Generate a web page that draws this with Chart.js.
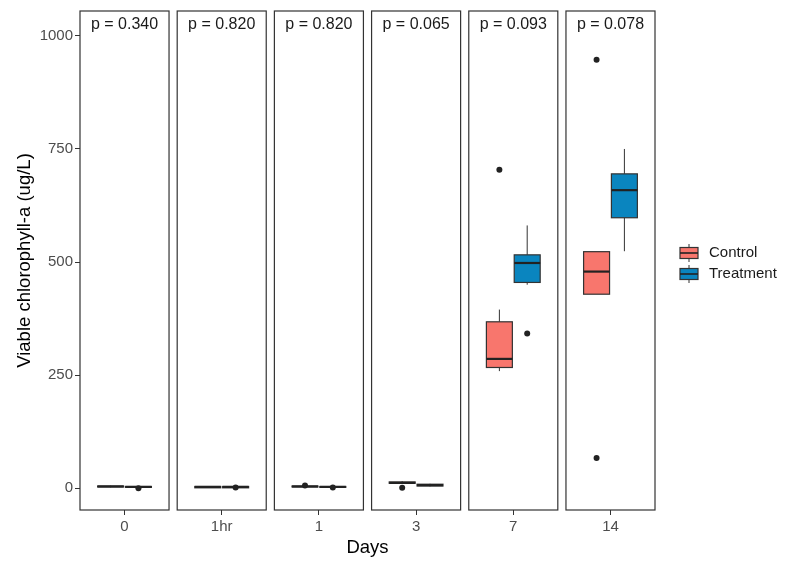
<!DOCTYPE html>
<html>
<head>
<meta charset="utf-8">
<script src="https://cdn.jsdelivr.net/npm/chart.js@4"></script>
<style>
  html, body { margin: 0; padding: 0; background: #fff; }
</style>
</head>
<body>
<canvas id="grafico" width="787" height="563"></canvas>
<script>
// Dados
const dias = ['0', '1hr', '1', '3', '7', '14'];
const pValores = ['p = 0.340', 'p = 0.820', 'p = 0.820', 'p = 0.065', 'p = 0.093', 'p = 0.078'];
const grupos = ['Control', 'Treatment'];

// [bigode inferior, q1, mediana, q3, bigode superior]
const controle = [
    [2, 3, 4, 5, 6],
    [1, 1, 3, 4, 5],
    [2, 3, 4, 5, 6],
    [10, 11, 12, 14, 16],
    [259, 267, 286, 368, 395],
    [429, 429, 479, 523, 523]
];
const tratamento = [
    [1, 2, 3, 4, 5],
    [1, 1, 3, 4, 5],
    [1, 2, 3, 4, 5],
    [4, 5, 7, 9, 10],
    [450, 455, 498, 516, 581],
    [524, 598, 659, 695, 750]
];
const outliersControle = [[], [], [6], [1], [704], [947, 67]];
const outliersTratamento = [[0], [2], [2], [], [342], []];

const yTicks = [0, 250, 500, 750, 1000];
const cores = ['#F8766D', '#0A85BF'];

// geometria dos painéis (unidades do eixo x)
const LARG = 1.2, PASSO = 1.31, DESLOC = 0.1875, MEIA = 0.175;
const centros = dias.map((d, i) => i * PASSO + LARG / 2);

function pontosOutliers(lista, sinal) {
    const pts = [];
    lista.forEach((vals, i) => {
        vals.forEach(v => pts.push({ x: centros[i] + sinal * DESLOC, y: v }));
    });
    return pts;
}

const FONTE = "'Liberation Sans', Arial, sans-serif";

const pluginCaixas = {
    id: 'caixas',
    beforeDatasetsDraw(chart) {
        const { ctx, scales: { x, y } } = chart;
        ctx.save();
        [controle, tratamento].forEach((serie, g) => {
            const sinal = g === 0 ? -1 : 1;
            serie.forEach((s, i) => {
                const cx = centros[i] + sinal * DESLOC;
                const x0 = x.getPixelForValue(cx - MEIA);
                const x1 = x.getPixelForValue(cx + MEIA);
                const xm = x.getPixelForValue(cx);
                const [lo, q1, med, q3, hi] = s.map(v => y.getPixelForValue(v));
                // bigodes
                ctx.strokeStyle = '#333';
                ctx.lineWidth = 1;
                ctx.beginPath();
                ctx.moveTo(xm, q3); ctx.lineTo(xm, hi);
                ctx.moveTo(xm, q1); ctx.lineTo(xm, lo);
                ctx.stroke();
                // caixa
                ctx.fillStyle = cores[g];
                ctx.fillRect(x0, q3, x1 - x0, q1 - q3);
                ctx.lineWidth = 1.2;
                ctx.strokeRect(x0, q3, x1 - x0, q1 - q3);
                // mediana
                ctx.lineWidth = 2.2;
                ctx.strokeStyle = '#222';
                ctx.beginPath();
                ctx.moveTo(x0, med); ctx.lineTo(x1, med);
                ctx.stroke();
            });
        });
        ctx.restore();
    },
    afterDraw(chart) {
        const { ctx, chartArea, scales: { x, y } } = chart;
        ctx.save();
        // bordas dos painéis e p-valores
        dias.forEach((d, i) => {
            const xa = x.getPixelForValue(i * PASSO);
            const xb = x.getPixelForValue(i * PASSO + LARG);
            ctx.strokeStyle = '#333';
            ctx.lineWidth = 1.2;
            ctx.strokeRect(xa, chartArea.top, xb - xa, chartArea.bottom - chartArea.top);
            ctx.fillStyle = '#1a1a1a';
            ctx.font = '16px ' + FONTE;
            ctx.textAlign = 'center';
            ctx.textBaseline = 'middle';
            ctx.fillText(pValores[i], (xa + xb) / 2, 25);
        });
        // títulos dos eixos
        ctx.fillStyle = '#000';
        ctx.font = '18.5px ' + FONTE;
        ctx.textAlign = 'center';
        ctx.textBaseline = 'middle';
        ctx.fillText('Days', (chartArea.left + chartArea.right) / 2, 548);
        ctx.save();
        ctx.translate(25, (chartArea.top + chartArea.bottom) / 2);
        ctx.rotate(-Math.PI / 2);
        ctx.fillText('Viable chlorophyll-a (ug/L)', 0, 0);
        ctx.restore();
        // legenda
        grupos.forEach((nome, g) => {
            const cy = 253 + g * 21;
            const lx = 680, lw = 18;
            ctx.strokeStyle = '#333';
            ctx.lineWidth = 1;
            ctx.beginPath();
            ctx.moveTo(lx + lw / 2, cy - 9); ctx.lineTo(lx + lw / 2, cy + 9);
            ctx.stroke();
            ctx.fillStyle = cores[g];
            ctx.fillRect(lx, cy - 5.5, lw, 11);
            ctx.lineWidth = 1.2;
            ctx.strokeRect(lx, cy - 5.5, lw, 11);
            ctx.lineWidth = 1.6;
            ctx.strokeStyle = '#222';
            ctx.beginPath();
            ctx.moveTo(lx, cy); ctx.lineTo(lx + lw, cy);
            ctx.stroke();
            ctx.fillStyle = '#1a1a1a';
            ctx.font = '15px ' + FONTE;
            ctx.textAlign = 'left';
            ctx.fillText(nome, 709, cy);
        });
        ctx.restore();
    }
};

const ctx = document.getElementById('grafico').getContext('2d');
new Chart(ctx, {
    type: 'scatter',
    data: {
        datasets: [
            { label: 'Control', data: pontosOutliers(outliersControle, -1) },
            { label: 'Treatment', data: pontosOutliers(outliersTratamento, 1) }
        ]
    },
    options: {
        responsive: false,
        animation: false,
        layout: { padding: { left: 0, right: 132, top: 7, bottom: 0 } },
        elements: {
            point: { radius: 3, backgroundColor: '#222', borderWidth: 0, hoverRadius: 3 }
        },
        plugins: { legend: { display: false }, tooltip: { enabled: false } },
        scales: {
            x: {
                type: 'linear',
                min: 0,
                max: 5 * PASSO + LARG,
                afterBuildTicks: s => { s.ticks = centros.map(v => ({ value: v })); },
                afterFit: s => { s.height = 53; },
                ticks: {
                    autoSkip: false,
                    maxRotation: 0,
                    color: '#4d4d4d',
                    padding: 3,
                    font: { family: FONTE, size: 15 },
                    callback: (v, i) => dias[i]
                },
                grid: { drawOnChartArea: false, tickLength: 5, color: '#333' },
                border: { display: false }
            },
            y: {
                min: -48,
                max: 1055,
                afterBuildTicks: s => { s.ticks = yTicks.map(v => ({ value: v })); },
                afterFit: s => { s.width = 80; },
                ticks: {
                    color: '#4d4d4d',
                    padding: 2,
                    font: { family: FONTE, size: 15 },
                    callback: v => String(v)
                },
                grid: { drawOnChartArea: false, tickLength: 5, color: '#333' },
                border: { display: false }
            }
        }
    },
    plugins: [pluginCaixas]
});
</script>
</body>
</html>
